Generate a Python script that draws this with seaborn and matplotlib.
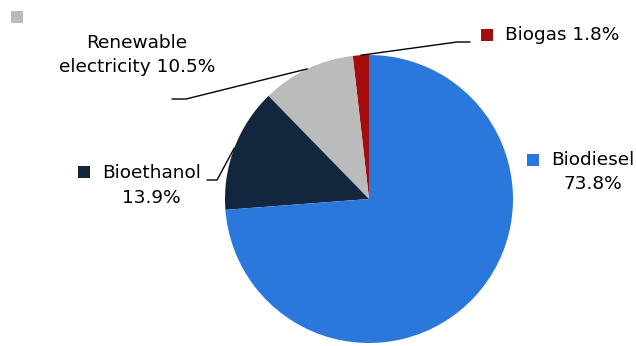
import matplotlib
matplotlib.use("Agg")
import matplotlib.pyplot as plt
import numpy as np
import seaborn as sns
from matplotlib.patches import Rectangle

sns.set_theme(style="white")
plt.rcParams['font.family'] = ['DejaVu Sans']

# data (counterclockwise from 12 o'clock)
categories = ["Biogas", "Renewable electricity", "Bioethanol", "Biodiesel"]
shares = [1.8, 10.5, 13.9, 73.8]
colors = ["#A50D0D", "#BBBBBB", "#12273D", "#2A78DC"]

W, H = 636, 346
fig = plt.figure(figsize=(W / 100, H / 100), dpi=100)
ax = fig.add_axes([0, 0, 1, 1])

cx, cy, R = 369, H - 199, 144
wedges, _ = ax.pie(shares, colors=colors, startangle=90, counterclock=True,
                   center=(cx, cy), radius=R, frame=True,
                   wedgeprops=dict(linewidth=0))
ax.set_xlim(0, W)
ax.set_ylim(0, H)
ax.set_aspect("equal")
ax.axis("off")

def edge_point(w):
    t = np.deg2rad((w.theta1 + w.theta2) / 2)
    return cx + R * np.cos(t), cy + R * np.sin(t)

fs = 13.3
ls = 1.45
sq = 12

# Biogas
x0, y0 = edge_point(wedges[0])
ax.plot([x0, 457, 470], [y0, H - 42, H - 42], color="black", lw=1)
ax.add_patch(Rectangle((481, H - 41), sq, sq, color=colors[0], lw=0))
ax.text(505, H - 35, f"{categories[0]} {shares[0]}%", fontsize=fs, ha="left",
        va="center", color="black")

# Renewable electricity
x0, y0 = edge_point(wedges[1])
ax.plot([x0, 186, 172], [y0, H - 99, H - 99], color="black", lw=1)
ax.text(137, H - 55, f"Renewable\nelectricity {shares[1]}%", fontsize=fs, ha="center",
        va="center", linespacing=ls, color="black")

# Bioethanol
x0, y0 = edge_point(wedges[2])
ax.plot([x0, 217, 207], [y0, H - 180, H - 180], color="black", lw=1)
ax.add_patch(Rectangle((78, H - 178), sq, sq, color=colors[2], lw=0))
ax.text(151.5, H - 185.5, f"{categories[2]}\n{shares[2]}%", fontsize=fs, ha="center",
        va="center", linespacing=ls, color="black")

# Biodiesel
ax.add_patch(Rectangle((527, H - 166), sq, sq, color=colors[3], lw=0))
ax.text(592.5, H - 172, f"{categories[3]}\n{shares[3]}%", fontsize=fs, ha="center",
        va="center", linespacing=ls, color="black")

# stray legend key at top-left
ax.add_patch(Rectangle((11, H - 23), sq, sq, color=colors[1], lw=0))

fig.savefig("out.png", dpi=100)
